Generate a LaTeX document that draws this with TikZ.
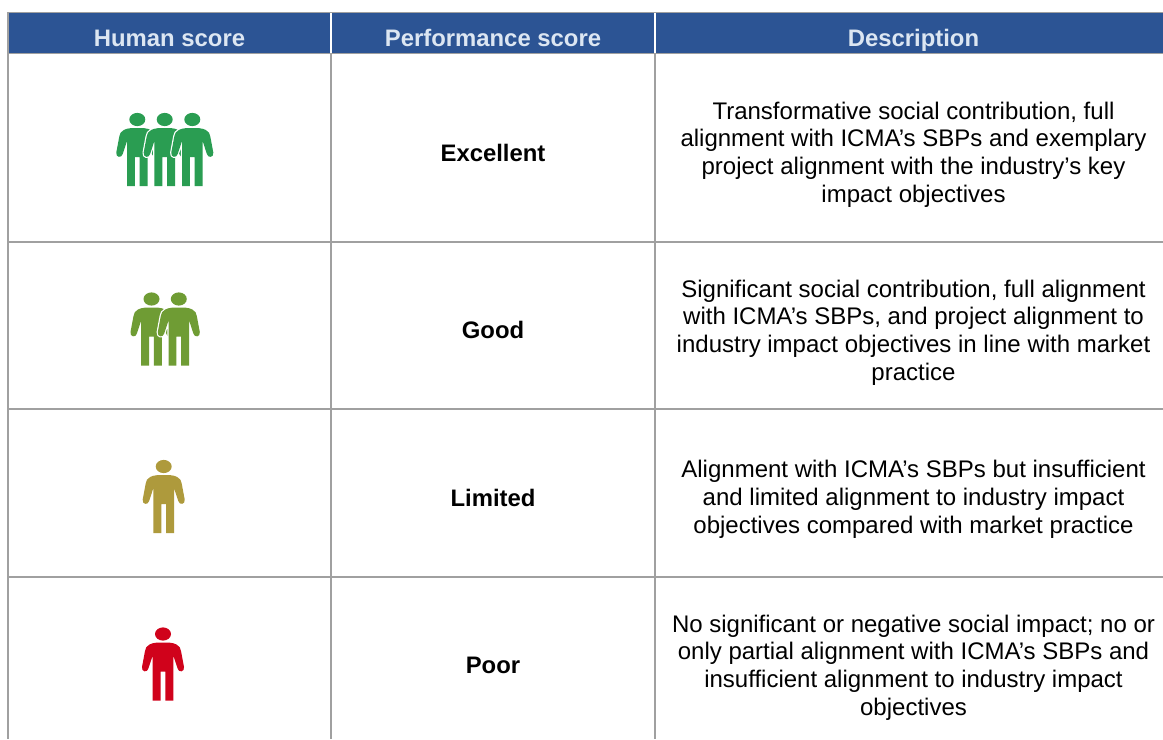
\documentclass[tikz,border=0pt]{standalone}
\usepackage{fontspec}
\setmainfont{Liberation Sans}
\definecolor{hdrblue}{HTML}{2C5494}
\definecolor{hdrtext}{HTML}{DCE6F2}
\definecolor{gridgray}{HTML}{A0A0A0}
\definecolor{pgreen}{HTML}{2A9D52}
\definecolor{polive}{HTML}{6F9C34}
\definecolor{pgold}{HTML}{AE9A3C}
\definecolor{pred}{HTML}{D0021B}
\tikzset{
  x=0.75pt, y=-0.75pt,
  gridline/.style={draw=gridgray, line width=1.4pt},
  sepline/.style={draw=white, line width=1pt},
  headtext/.style={font=\fontsize{17.9pt}{21pt}\selectfont\bfseries, text=hdrtext, anchor=base, inner sep=0pt},
  scoretext/.style={font=\fontsize{17.9pt}{21pt}\selectfont\bfseries, text=black, anchor=base, inner sep=0pt},
  desctext/.style={font=\fontsize{18pt}{20.8pt}\selectfont, text=black, align=center, anchor=center, inner sep=0pt},
  pics/person/.style={code={
    \fill[#1, preaction={draw=white, line width=1.8pt, line join=round}]
      (0,-58) .. controls (5,-58) and (10,-58) .. (13.5,-56)
      .. controls (16.5,-54.5) and (17.5,-52.5) .. (18,-49.5)
      -- (21,-33.5) .. controls (21.8,-28.5) and (15.6,-27.5) .. (14.6,-32)
      -- (10.3,-45) -- (10.3,0) -- (2.4,0) -- (2.4,-29) -- (-2.4,-29) -- (-2.4,0) -- (-10.3,0) -- (-10.3,-45)
      -- (-14.6,-32) .. controls (-15.6,-27.5) and (-21.8,-28.5) .. (-21,-33.5)
      -- (-18,-49.5) .. controls (-17.5,-52.5) and (-16.5,-54.5) .. (-13.5,-56)
      .. controls (-10,-58) and (-5,-58) .. (0,-58) -- cycle;
    \fill[#1] (0,-66.5) ellipse [x radius=8, y radius=6.6];
  }}
}
\begin{document}
\begin{tikzpicture}
\useasboundingbox (0,0) rectangle (1163,739);
% header band
\fill[hdrblue] (8,12.5) rectangle (1163,53.5);
\draw[sepline] (331,13) -- (331,53);
\draw[sepline] (655,13) -- (655,53);
% grid
\draw[gridline] (8,12.5) -- (1163,12.5);
\draw[gridline] (8,53.5) -- (1163,53.5);
\draw[gridline] (8,242) -- (1163,242);
\draw[gridline] (8,409) -- (1163,409);
\draw[gridline] (8,577) -- (1163,577);
\draw[gridline] (8,12) -- (8,739);
\draw[gridline] (331,54) -- (331,739);
\draw[gridline] (655,54) -- (655,739);
% header text
\node[headtext] (h1) at (169.5,46) {Human score};
\node[headtext] (h2) at (493,46) {Performance score};
\node[headtext] (h3) at (913.5,46) {Description};
% icons
\pic at (137.3,186) {person=pgreen};
\pic at (164.7,186) {person=pgreen};
\pic at (192.3,186) {person=pgreen};
\pic at (151.5,365.5) {person=polive};
\pic at (178.8,365.5) {person=polive};
\pic at (163.7,533) {person=pgold};
\pic at (163,700.5) {person=pred};
% scores
\node[scoretext] (s1) at (493,161) {Excellent};
\node[scoretext] (s2) at (493,338) {Good};
\node[scoretext] (s3) at (493,506) {Limited};
\node[scoretext] (s4) at (493,673.5) {Poor};
% descriptions
\node[desctext] (d1) at (913.5,154.4) {Transformative social contribution, full\\alignment with ICMA’s SBPs and exemplary\\project alignment with the industry’s key\\impact objectives};
\node[desctext] (d2) at (913.5,332.4) {Significant social contribution, full alignment\\with ICMA’s SBPs, and project alignment to\\industry impact objectives in line with market\\practice};
\node[desctext] (d3) at (913.5,499.5) {Alignment with ICMA’s SBPs but insufficient\\and limited alignment to industry impact\\objectives compared with market practice};
\node[desctext] (d4) at (913.5,667.4) {No significant or negative social impact; no or\\only partial alignment with ICMA’s SBPs and\\insufficient alignment to industry impact\\objectives};
\end{tikzpicture}
\end{document}
